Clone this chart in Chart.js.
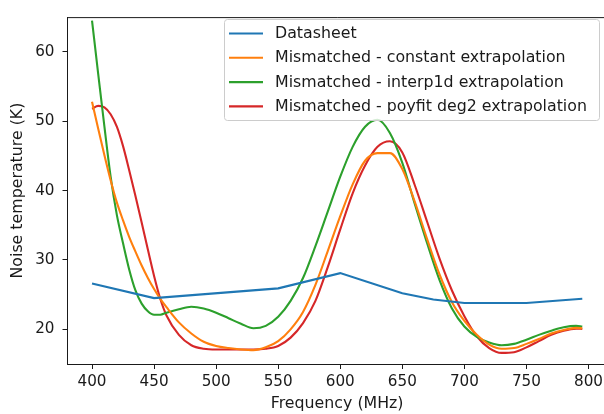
<!DOCTYPE html>
<html>
<head>
<meta charset="utf-8">
<title>Noise temperature vs frequency</title>
<script src="https://cdn.jsdelivr.net/npm/chart.js@4"></script>
<style>
  html, body { margin: 0; padding: 0; overflow: hidden; background: #fff; }
  #wrap { width: 604px; height: 414px; overflow: hidden; }
</style>
</head>
<body>
<div id="wrap"><canvas id="chart" width="620" height="414"></canvas></div>
<script>
/* Noise temperature of the LNA: datasheet vs. mismatched models
   (values read off the reference plot) */

// datasheet points (MHz, K)
var sheetFreq  = [400, 450, 550, 600, 650, 675, 700, 750, 795];
var sheetNoise = [26.6, 24.5, 25.9, 28.1, 25.2, 24.3, 23.8, 23.8, 24.4];

// frequency grid for the mismatched curves (MHz)
var freq = [400, 405, 410, 415, 420, 425, 430, 435, 440, 445, 450, 455, 460,
            470, 480, 490, 500, 510, 520, 530, 540, 550, 560, 570, 580, 590,
            600, 610, 620, 630, 640, 650, 660, 670, 680, 690, 700, 710, 720,
            730, 740, 750, 760, 770, 780, 790, 795];

var constantNoise = [52.8, 48.9, 45.1, 41.5, 38.3, 35.7, 33.3, 31.2, 29.2, 27.4, 25.8, 24.4, 23.2,
                     21.0, 19.4, 18.2, 17.6, 17.3, 17.1, 17.0, 17.4, 18.3, 20.0, 22.5, 26.4, 31.3,
                     36.3, 40.9, 44.3, 45.4, 45.4, 43.1, 38.4, 33.0, 27.9, 23.9, 21.2, 19.2, 17.8,
                     17.2, 17.3, 17.9, 18.6, 19.4, 19.9, 20.2, 20.15];

var interpNoise   = [64.5, 56.8, 49.2, 42.0, 36.5, 32.4, 28.6, 25.6, 23.7, 22.6, 22.1, 22.1, 22.4,
                     22.9, 23.25, 23.0, 22.4, 21.6, 20.8, 20.15, 20.5, 21.8, 24.1, 27.4, 32.0, 37.0,
                     42.0, 46.3, 49.2, 50.2, 48.3, 44.0, 38.1, 32.4, 27.1, 23.0, 20.4, 18.9, 18.1,
                     17.7, 17.9, 18.5, 19.2, 19.8, 20.3, 20.5, 20.4];

var polyfitNoise  = [51.8, 52.2, 52.0, 51.0, 49.2, 46.4, 42.9, 39.2, 35.4, 31.5, 27.7, 24.4, 22.0,
                     19.2, 17.7, 17.2, 17.1, 17.1, 17.1, 17.1, 17.2, 17.6, 18.8, 20.9, 24.1, 29.0,
                     34.4, 39.6, 43.6, 46.3, 47.1, 45.5, 40.8, 35.5, 30.2, 25.6, 21.9, 19.0, 17.3,
                     16.6, 16.7, 17.4, 18.3, 19.2, 19.8, 20.1, 20.05];

// tick labels
var xTicks = [400, 450, 500, 550, 600, 650, 700, 750, 800];
var yTicks = [20, 30, 40, 50, 60];

var labels = ['Datasheet',
              'Mismatched - constant extrapolation',
              'Mismatched - interp1d extrapolation',
              'Mismatched - poyfit deg2 extrapolation'];

var colours = ['#1f77b4', '#ff7f0e', '#2ca02c', '#d62728'];

var FONT = "'DejaVu Sans', sans-serif";
var INK = '#1a1a1a';
var TICK_SIZE = 15.2;
var LABEL_SIZE = 15.8;

function toPoints(xs, ys) {
  return xs.map(function (x, i) { return { x: x, y: ys[i] }; });
}

function makeDataset(label, xs, ys, colour, smooth) {
  return {
    label: label,
    data: toPoints(xs, ys),
    borderColor: colour,
    backgroundColor: colour,
    borderWidth: 2.1,
    pointRadius: 0,
    fill: false,
    tension: 0,
    cubicInterpolationMode: smooth ? 'monotone' : 'default'
  };
}

function fixedTicks(values) {
  return function (scale) {
    scale.ticks = values.map(function (v) { return { value: v }; });
  };
}

// matplotlib-like frame (top spine) and the boxed legend in the upper right
var framePlugin = {
  id: 'frame',
  afterDatasetsDraw: function (chart) {
    var ctx = chart.ctx, a = chart.chartArea;
    ctx.save();
    ctx.strokeStyle = INK;
    ctx.lineWidth = 1;
    ctx.beginPath();
    ctx.moveTo(a.left, a.top + 0.5);
    ctx.lineTo(a.right, a.top + 0.5);
    ctx.moveTo(a.right - 0.5, a.top);
    ctx.lineTo(a.right - 0.5, a.bottom);
    ctx.stroke();

    // legend box
    var bx = 224.5, by = 19.5, bw = 375, bh = 101, r = 3;
    ctx.beginPath();
    ctx.moveTo(bx + r, by);
    ctx.arcTo(bx + bw, by, bx + bw, by + bh, r);
    ctx.arcTo(bx + bw, by + bh, bx, by + bh, r);
    ctx.arcTo(bx, by + bh, bx, by, r);
    ctx.arcTo(bx, by, bx + bw, by, r);
    ctx.closePath();
    ctx.fillStyle = 'rgba(255,255,255,0.8)';
    ctx.fill();
    ctx.strokeStyle = '#cccccc';
    ctx.stroke();

    ctx.font = LABEL_SIZE + 'px ' + FONT;
    ctx.textBaseline = 'middle';
    ctx.textAlign = 'left';
    chart.data.datasets.forEach(function (ds, i) {
      var y = 33.5 + i * 24.3;
      ctx.strokeStyle = ds.borderColor;
      ctx.lineWidth = 2.1;
      ctx.beginPath();
      ctx.moveTo(229, y);
      ctx.lineTo(263, y);
      ctx.stroke();
      ctx.fillStyle = INK;
      ctx.fillText(ds.label, 275, y + 0.5);
    });
    ctx.restore();
  }
};

new Chart(document.getElementById('chart'), {
  type: 'line',
  data: {
    datasets: [
      makeDataset(labels[0], sheetFreq, sheetNoise, colours[0], false),
      makeDataset(labels[1], freq, constantNoise, colours[1], true),
      makeDataset(labels[2], freq, interpNoise, colours[2], true),
      makeDataset(labels[3], freq, polyfitNoise, colours[3], true)
    ]
  },
  options: {
    responsive: false,
    animation: false,
    devicePixelRatio: 1,
    layout: { padding: { left: 0, top: 11, right: 13.2, bottom: 0 } },
    plugins: {
      legend: { display: false },
      tooltip: { enabled: false }
    },
    scales: {
      x: {
        type: 'linear',
        min: 380.25,
        max: 814.75,
        afterFit: function (s) { s.height = 50; },
        afterBuildTicks: fixedTicks(xTicks),
        grid: { drawOnChartArea: false, drawTicks: true, tickLength: 5, tickColor: INK },
        border: { display: true, color: INK, width: 1 },
        ticks: {
          padding: 4,
          color: INK,
          font: { family: FONT, size: TICK_SIZE },
          maxRotation: 0,
          autoSkip: false
        },
        title: {
          display: true,
          text: 'Frequency (MHz)',
          color: INK,
          font: { family: FONT, size: LABEL_SIZE },
          padding: { top: 0, bottom: 1 }
        }
      },
      y: {
        min: 15,
        max: 65,
        afterFit: function (s) { s.width = 67.5; },
        afterBuildTicks: fixedTicks(yTicks),
        grid: { drawOnChartArea: false, drawTicks: true, tickLength: 5, tickColor: INK },
        border: { display: true, color: INK, width: 1 },
        ticks: {
          padding: 8,
          color: INK,
          font: { family: FONT, size: TICK_SIZE },
          autoSkip: false
        },
        title: {
          display: true,
          text: 'Noise temperature (K)',
          color: INK,
          font: { family: FONT, size: LABEL_SIZE },
          padding: { top: 8.5, bottom: 0 }
        }
      }
    }
  },
  plugins: [framePlugin]
});
</script>
</body>
</html>
